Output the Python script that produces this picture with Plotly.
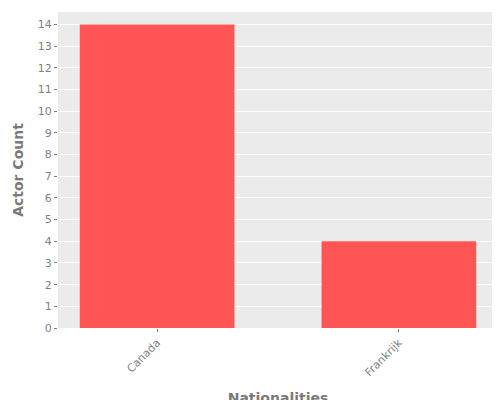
import plotly.graph_objects as go

categories = ["Canada", "Frankrijk"]
counts = [14, 4]
y_ticks = list(range(0, 15))

fig = go.Figure(go.Bar(x=categories, y=counts, marker_color="#FF5555",
                       marker_line_width=0, width=0.64))
fig.update_layout(
    width=500, height=400, margin=dict(l=50, r=10, t=4, b=80),
    paper_bgcolor="white", plot_bgcolor="#EBEBEB",
    font=dict(family="DejaVu Sans", color="#7F7F7F", size=11),
    showlegend=False,
)
fig.update_xaxes(range=[-0.41, 1.41], tickangle=-45, showgrid=False, automargin=False,
                 ticks="outside", ticklen=3, tickcolor="#7F7F7F",
                 title=dict(text="<b>Nationalities</b>", font=dict(size=14, color="#7A7A7A")))
fig.update_yaxes(range=[0, 14.58], tickvals=y_ticks, gridcolor="white", gridwidth=1, automargin=False,
                 ticks="outside", ticklen=3, tickcolor="#7F7F7F", zeroline=False,
                 title=dict(text="<b>Actor Count</b>", font=dict(size=14, color="#7A7A7A"), standoff=10))
fig.write_html("out.html")
